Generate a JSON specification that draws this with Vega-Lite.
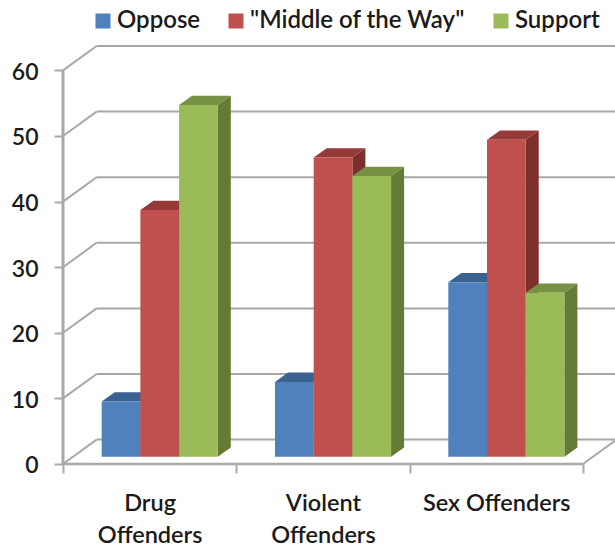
{
  "$schema": "https://vega.github.io/schema/vega-lite/v6.json",
  "width": 615,
  "height": 550,
  "padding": 0,
  "autosize": "none",
  "background": "white",
  "view": {"stroke": null},
  "datasets": {
    "opinions": [
      {"group": 0, "slot": 1, "series": "Oppose", "value": 8.4},
      {"group": 0, "slot": 2, "series": "\"Middle of the Way\"", "value": 37.6},
      {"group": 0, "slot": 3, "series": "Support", "value": 53.6},
      {"group": 1, "slot": 1, "series": "Oppose", "value": 11.4},
      {"group": 1, "slot": 2, "series": "\"Middle of the Way\"", "value": 45.6},
      {"group": 1, "slot": 3, "series": "Support", "value": 42.8},
      {"group": 2, "slot": 1, "series": "Oppose", "value": 26.6},
      {"group": 2, "slot": 2, "series": "\"Middle of the Way\"", "value": 48.3},
      {"group": 2, "slot": 3, "series": "Support", "value": 25}
    ],
    "levels": [
      {"tick": 0}, {"tick": 10}, {"tick": 20}, {"tick": 30}, {"tick": 40}, {"tick": 50}, {"tick": 60}
    ],
    "frame": [{"left": 0, "right": 3, "depth": 0.194, "floor": 0, "top": 60, "rise": 3.72}]
  },
  "resolve": {"scale": {"color": "independent"}},
  "layer": [
    {
      "data": {"name": "levels"},
      "transform": [{"calculate": "datum.tick + 3.72", "as": "back"}],
      "mark": {"type": "rule", "color": "#a8a8a8", "strokeWidth": 2},
      "encoding": {
        "x": {
          "datum": 0,
          "type": "quantitative",
          "scale": {"domain": [-0.3635, 3.1852], "nice": false, "zero": false},
          "axis": {
            "title": null,
            "orient": "bottom",
            "offset": -86,
            "grid": false,
            "domain": false,
            "values": [0, 0.5, 1, 1.5, 2, 2.5, 3],
            "tickSize": 9,
            "tickWidth": 2,
            "tickColor": "#a8a8a8",
            "tickOpacity": {"condition": {"test": "datum.value % 1 == 0", "value": 1}, "value": 0},
            "labelExpr": "datum.value == 0.5 ? ['Drug', 'Offenders'] : datum.value == 1.5 ? ['Violent', 'Offenders'] : datum.value == 2.5 ? 'Sex Offenders' : ''",
            "labelFont": "Lato",
            "labelFontWeight": 600,
            "labelFontSize": 23.5,
            "labelColor": "#1a1a1a",
            "labelLineHeight": 32,
            "labelPadding": 18,
            "labelOverlap": false,
            "labelFlush": false
          }
        },
        "x2": {"datum": 0.194},
        "y": {
          "field": "tick",
          "type": "quantitative",
          "scale": {"domain": [-13.11, 70.73], "nice": false, "zero": false},
          "axis": {
            "title": null,
            "orient": "left",
            "offset": -63,
            "grid": false,
            "domain": false,
            "values": [0, 10, 20, 30, 40, 50, 60],
            "tickSize": 9,
            "tickWidth": 2,
            "tickColor": "#a8a8a8",
            "labelFont": "Lato",
            "labelFontWeight": 600,
            "labelFontSize": 23,
            "labelColor": "#1a1a1a",
            "labelPadding": 16,
            "labelOffset": 2
          }
        },
        "y2": {"field": "back"}
      }
    },
    {
      "data": {"name": "levels"},
      "transform": [{"calculate": "datum.tick + 3.72", "as": "back"}],
      "mark": {"type": "rule", "color": "#a8a8a8", "strokeWidth": 2},
      "encoding": {
        "x": {"datum": 0.194, "type": "quantitative"},
        "x2": {"datum": 3.194},
        "y": {"field": "back", "type": "quantitative"}
      }
    },
    {
      "data": {"name": "frame"},
      "mark": {"type": "rule", "color": "#a8a8a8", "strokeWidth": 3},
      "encoding": {
        "x": {"field": "left", "type": "quantitative"},
        "y": {"field": "floor", "type": "quantitative"},
        "y2": {"field": "top"}
      }
    },
    {
      "data": {"name": "frame"},
      "mark": {"type": "rule", "color": "#a8a8a8", "strokeWidth": 2.5},
      "encoding": {
        "x": {"field": "left", "type": "quantitative"},
        "x2": {"field": "right"},
        "y": {"field": "floor", "type": "quantitative"}
      }
    },
    {
      "data": {"name": "frame"},
      "transform": [{"calculate": "datum.right + datum.depth", "as": "corner"}],
      "mark": {"type": "rule", "color": "#a8a8a8", "strokeWidth": 2},
      "encoding": {
        "x": {"field": "right", "type": "quantitative"},
        "x2": {"field": "corner"},
        "y": {"field": "floor", "type": "quantitative"},
        "y2": {"field": "rise"}
      }
    },
    {
      "data": {"name": "opinions"},
      "transform": [
        {"calculate": "[0, 1]", "as": "p"},
        {"flatten": ["p"]},
        {"calculate": "datum.group + (datum.slot + 1) * 0.2233 + datum.p * 0.075", "as": "sx"},
        {"calculate": "1.11 + datum.p * 1.42", "as": "sy0"},
        {"calculate": "1.11 + datum.value + datum.p * 1.42", "as": "sy1"},
        {"calculate": "datum.group + '-' + datum.slot", "as": "bar"}
      ],
      "mark": {"type": "area", "orient": "vertical"},
      "encoding": {
        "x": {"field": "sx", "type": "quantitative"},
        "y": {"field": "sy1", "type": "quantitative", "stack": null},
        "y2": {"field": "sy0"},
        "detail": {"field": "bar"},
        "color": {
          "field": "series",
          "type": "nominal",
          "legend": null,
          "scale": {
            "domain": ["Oppose", "\"Middle of the Way\"", "Support"],
            "range": ["#31537c", "#7d2f2d", "#647a37"]
          }
        }
      }
    },
    {
      "data": {"name": "opinions"},
      "transform": [
        {"calculate": "[0, 1]", "as": "p"},
        {"flatten": ["p"]},
        {"calculate": "datum.group + datum.slot * 0.2233 + datum.p * 0.075", "as": "tx0"},
        {"calculate": "datum.group + (datum.slot + 1) * 0.2233 + datum.p * 0.075", "as": "tx1"},
        {"calculate": "1.11 + datum.value + datum.p * 1.42", "as": "ty"},
        {"calculate": "datum.group + '-' + datum.slot", "as": "bar"}
      ],
      "mark": {"type": "area", "orient": "horizontal"},
      "encoding": {
        "y": {"field": "ty", "type": "quantitative"},
        "x": {"field": "tx0", "type": "quantitative", "stack": null},
        "x2": {"field": "tx1"},
        "detail": {"field": "bar"},
        "color": {
          "field": "series",
          "type": "nominal",
          "legend": null,
          "scale": {
            "domain": ["Oppose", "\"Middle of the Way\"", "Support"],
            "range": ["#3a6291", "#953a38", "#779043"]
          }
        }
      }
    },
    {
      "data": {"name": "opinions"},
      "transform": [
        {"calculate": "datum.group + datum.slot * 0.2233", "as": "fx0"},
        {"calculate": "datum.group + (datum.slot + 1) * 0.2233", "as": "fx1"},
        {"calculate": "1.11", "as": "fy0"},
        {"calculate": "1.11 + datum.value", "as": "fy1"}
      ],
      "mark": {"type": "rect"},
      "encoding": {
        "x": {"field": "fx0", "type": "quantitative"},
        "x2": {"field": "fx1"},
        "y": {"field": "fy1", "type": "quantitative"},
        "y2": {"field": "fy0"},
        "color": {
          "field": "series",
          "type": "nominal",
          "scale": {
            "domain": ["Oppose", "\"Middle of the Way\"", "Support"],
            "range": ["#4f81bd", "#c0504d", "#9bbb59"]
          },
          "legend": {
            "title": null,
            "orient": "none",
            "legendX": 91,
            "legendY": 9,
            "direction": "horizontal",
            "columns": 3,
            "columnPadding": 23,
            "symbolType": "square",
            "symbolSize": 225,
            "symbolStrokeWidth": 0,
            "labelFont": "Lato",
            "labelFontWeight": 600,
            "labelFontSize": 24,
            "labelColor": "#1a1a1a",
            "labelOffset": 2,
            "labelLimit": 300
          }
        }
      }
    }
  ]
}
